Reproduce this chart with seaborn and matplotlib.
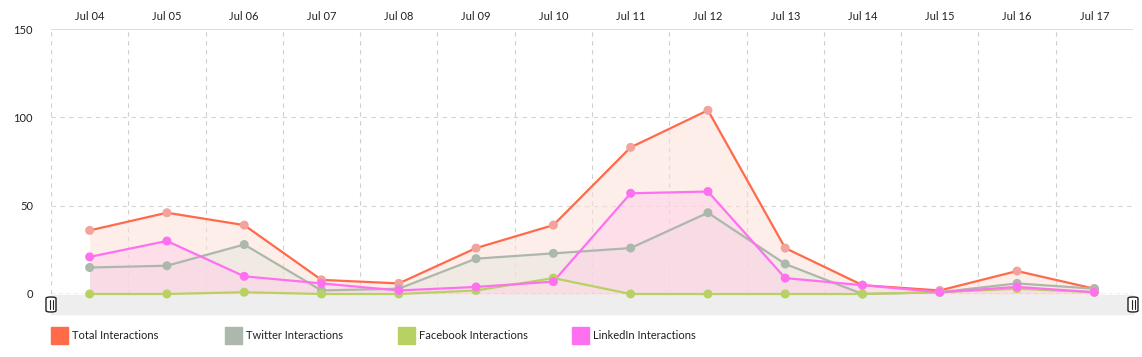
import matplotlib
matplotlib.use("Agg")
import matplotlib.pyplot as plt
from matplotlib.patches import Rectangle, FancyBboxPatch
import seaborn as sns
import pandas as pd
import numpy as np

# data
days = ["Jul 04", "Jul 05", "Jul 06", "Jul 07", "Jul 08", "Jul 09", "Jul 10",
        "Jul 11", "Jul 12", "Jul 13", "Jul 14", "Jul 15", "Jul 16", "Jul 17"]
total = [36, 46, 39, 8, 6, 26, 39, 83, 104, 26, 5, 2, 13, 3]
twitter = [15, 16, 28, 2, 3, 20, 23, 26, 46, 17, 0, 1, 6, 3]
facebook = [0, 0, 1, 0, 0, 2, 9, 0, 0, 0, 0, 1, 3, 1]
linkedin = [21, 30, 10, 6, 2, 4, 7, 57, 58, 9, 5, 1, 4, 1]
y_ticks = [0, 50, 100, 150]

series = [
    # name, values, line colour, marker colour, fill colour, fill alpha
    ("Total Interactions", total, "#FF6A4A", "#F3A29C", "#FDE0D8", 0.55),
    ("Twitter Interactions", twitter, "#ABB8AB", "#ABB8AB", "#E4E6DC", 0.45),
    ("Facebook Interactions", facebook, "#B7D163", "#B7D163", "#EEF3D8", 0.4),
    ("LinkedIn Interactions", linkedin, "#FF70F0", "#FF70F0", "#FFCCEB", 0.45),
]

sns.set_theme(style="white")
plt.rcParams["font.family"] = ["Lato", "DejaVu Sans"]

W, H = 1142, 357
fig = plt.figure(figsize=(W / 100, H / 100), dpi=100)
x0, x1, ytop, ybot = 51, 1133, 29, 294
ax = fig.add_axes([x0 / W, 1 - ybot / H, (x1 - x0) / W, (ybot - ytop) / H])
ax.set_zorder(1)
ax.patch.set_alpha(0)

x = np.arange(len(days))
for name, vals, lc, mc, fc, fa in series:
    df = pd.DataFrame({"x": x, "y": vals})
    ax.fill_between(df["x"], df["y"], 0, color=fc, alpha=fa, lw=0, zorder=1)

ax.axhline(0, ls=(0, (3, 3)), color="#888888", lw=0.9, zorder=2)

for name, vals, lc, mc, fc, fa in series:
    df = pd.DataFrame({"x": x, "y": vals})
    sns.lineplot(data=df, x="x", y="y", ax=ax, color=lc, lw=1.6, zorder=3,
                 clip_on=False)
    sns.scatterplot(data=df, x="x", y="y", ax=ax, color=mc, s=42,
                    edgecolor="none", zorder=4, clip_on=False)

ax.set_xlim(-0.5, len(days) - 0.5)
ax.set_ylim(0, 150)
ax.set_xlabel("")
ax.set_ylabel("")

# category labels on top, dashed band boundaries
ax.xaxis.tick_top()
ax.set_xticks(x)
ax.set_xticklabels(days, fontsize=8, color="#222222")
ax.set_xticks(np.arange(-0.5, len(days)), minor=True)
ax.tick_params(axis="x", which="both", length=0, pad=5)
ax.grid(True, axis="x", which="minor", ls=(0, (4, 4)), color="#CFCFCF", lw=0.8)

ax.set_yticks(y_ticks)
ax.set_yticklabels([str(v) for v in y_ticks], fontsize=8, color="#222222")
ax.tick_params(axis="y", length=0, pad=13)
for v in [50, 100]:
    ax.axhline(v, ls=(0, (4, 4)), color="#D5D5D5", lw=0.8, zorder=0)
ax.axhline(150, color="#D8D8D8", lw=1.2, zorder=0)

for s in ax.spines.values():
    s.set_visible(False)

# navigator strip under the chart
fig.patches.append(Rectangle((x0 / W, 1 - 314 / H), (x1 - x0) / W, 19 / H,
                             transform=fig.transFigure, color="#EEEEEE", zorder=0))
for hx in [x0, x1]:
    fig.patches.append(FancyBboxPatch(((hx - 5) / W, 1 - 312 / H), 10 / W, 15 / H,
                                      boxstyle="round,pad=0,rounding_size=0.004",
                                      transform=fig.transFigure, facecolor="white",
                                      edgecolor="#222222", lw=1, zorder=6))
    for dx in [-1.5, 1.5]:
        fig.add_artist(plt.Line2D([(hx + dx) / W] * 2, [1 - 309 / H, 1 - 300 / H],
                                  transform=fig.transFigure, color="#222222",
                                  lw=0.8, zorder=7))

# legend
leg_x = [51, 225, 398, 572]
for (name, vals, lc, mc, fc, fa), lx in zip(series, leg_x):
    fig.patches.append(Rectangle((lx / W, 1 - 344 / H), 17 / W, 17 / H,
                                 transform=fig.transFigure, color=lc))
    fig.text((lx + 21) / W, 1 - 335.5 / H, name, fontsize=8, va="center",
             color="#222222")

fig.savefig("out.png", dpi=100)
plt.close(fig)
